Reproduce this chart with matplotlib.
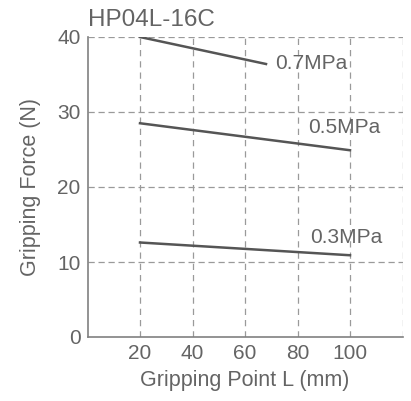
import matplotlib
matplotlib.use("Agg")
import matplotlib.pyplot as plt

title = "HP04L-16C"
series_names = ["0.7MPa", "0.5MPa", "0.3MPa"]
x_07 = [20, 68]
y_07 = [40, 36.4]
x_05 = [20, 100]
y_05 = [28.5, 24.9]
x_03 = [20, 100]
y_03 = [12.6, 10.9]
xticks = [20, 40, 60, 80, 100]
yticks = [0, 10, 20, 30, 40]

plt.rcParams['font.family'] = ['Liberation Sans', 'DejaVu Sans']
fig = plt.figure(figsize=(4.11, 4.01), dpi=100)
ax = fig.add_axes([87.5/411, 1 - 337/401, 315/411, 300/401])

c_text = "#646464"
c_line = "#555555"
c_grid = "#9a9a9a"

ax.set_xlim(0, 120)
ax.set_ylim(0, 40)
for gx in [20, 40, 60, 80, 100, 120]:
    ax.axvline(gx, color=c_grid, lw=0.9, ls=(0, (5, 4)), zorder=1)
for gy in [10, 20, 30, 40]:
    ax.axhline(gy, color=c_grid, lw=0.9, ls=(0, (5, 3)), zorder=1)

for xs, ys in [(x_07, y_07), (x_05, y_05), (x_03, y_03)]:
    ax.plot(xs, ys, color=c_line, lw=1.8, zorder=3)

ax.text(71.5, 36.5, series_names[0], color=c_text, fontsize=15, va='center', ha='left')
ax.text(84.2, 27.9, series_names[1], color=c_text, fontsize=15, va='center', ha='left')
ax.text(84.8, 13.2, series_names[2], color=c_text, fontsize=15, va='center', ha='left')

for s in ['top', 'right']:
    ax.spines[s].set_visible(False)
for s in ['left', 'bottom']:
    ax.spines[s].set_color("#808080")
    ax.spines[s].set_linewidth(1.2)

ax.set_xticks(xticks)
ax.set_yticks(yticks)
ax.tick_params(length=0, labelsize=15, labelcolor=c_text, pad=5)
ax.set_xlabel("Gripping Point L (mm)", fontsize=15.5, color=c_text, labelpad=5)
ax.set_ylabel("Gripping Force (N)", fontsize=15.5, color=c_text, labelpad=12)
fig.text(88/411, 1 - 20/401, title, fontsize=17.5, color=c_text, ha='left', va='center')

fig.savefig("out.png", dpi=100)
